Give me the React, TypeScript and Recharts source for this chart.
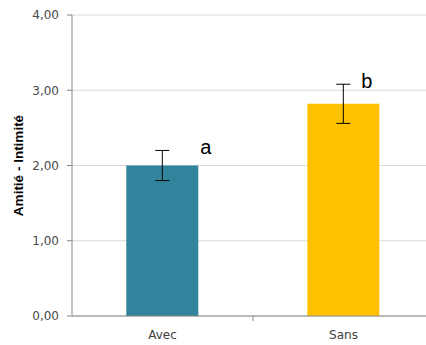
import React from "react";
import { BarChart, Bar, XAxis, YAxis, CartesianGrid, ErrorBar, Cell, LabelList } from "recharts";

const categories = ["Avec", "Sans"];
const values = [2.0, 2.82];
const errors = [0.2, 0.26];
const letters = ["a", "b"];
const yTicks = [0, 1, 2, 3, 4];
const yTitle = "Amitié - Intimité";

const colors = ["#31849B", "#FFC000"];
const letterDx = [38, 18];

const data = categories.map((c, i) => ({ name: c, value: values[i], err: errors[i], letter: letters[i] }));

const fmt = (v: number) => v.toFixed(2).replace(".", ",");

const XTick = (props: any) => {
  const { x, y, payload } = props;
  const half = payload && payload.offset ? payload.offset : 90.5;
  return (
    <g>
      <line x1={x + half} x2={x + half} y1={y - 8} y2={y - 3} stroke="#868686" />
      <text x={x} y={y + 15} textAnchor="middle" fill="#404040" fontSize={12} fontFamily="DejaVu Sans">
        {payload.value}
      </text>
    </g>
  );
};

const YTitle = (props: any) => {
  const vb = props.viewBox || { x: 0, y: 15, width: 72, height: 301 };
  const cx = 18;
  const cy = vb.y + vb.height / 2;
  return (
    <text
      x={cx}
      y={cy}
      transform={`rotate(-90 ${cx} ${cy})`}
      textAnchor="middle"
      dominantBaseline="central"
      fontSize={13.5}
      fontWeight="bold"
      fontFamily="Liberation Sans"
      fill="#000"
    >
      {yTitle}
    </text>
  );
};

const LetterLabel = (props: any) => {
  const { x, width, index, value } = props;
  const d = data[index];
  const barTop = props.y;
  const barH = props.height;
  const perUnit = barH / d.value;
  const errTop = barTop - d.err * perUnit;
  return (
    <text x={x + width / 2 + letterDx[index]} y={errTop + 4} fontSize={20} fontFamily="Liberation Sans" fill="#000">
      {value}
    </text>
  );
};

export default function App() {
  return (
    <div style={{ position: "absolute", left: 0, top: 0, width: 426, height: 345, overflow: "hidden", background: "#fff" }}>
      <BarChart
        width={436}
        height={345}
        data={data}
        margin={{ top: 15, right: 2, left: 0, bottom: 0 }}
        barCategoryGap="30%"
      >
        <CartesianGrid vertical={false} stroke="#d9d9d9" />
        <XAxis
          dataKey="name"
          height={29}
          stroke="#868686"
          tickLine={false}
          tick={<XTick />}
          interval={0}
        />
        <YAxis
          domain={[0, 4]}
          ticks={yTicks}
          tickFormatter={fmt}
          width={72}
          stroke="#868686"
          tickSize={5}
          tickMargin={8}
          tick={{ fill: "#4a4a4a", fontSize: 12, fontFamily: "DejaVu Sans" }}
          label={<YTitle />}
        />
        <Bar dataKey="value" isAnimationActive={false}>
          {data.map((d, i) => (
            <Cell key={d.name} fill={colors[i]} />
          ))}
          <ErrorBar dataKey="err" width={7} stroke="#000" strokeWidth={1} />
          <LabelList dataKey="letter" content={<LetterLabel />} />
        </Bar>
      </BarChart>
    </div>
  );
}
